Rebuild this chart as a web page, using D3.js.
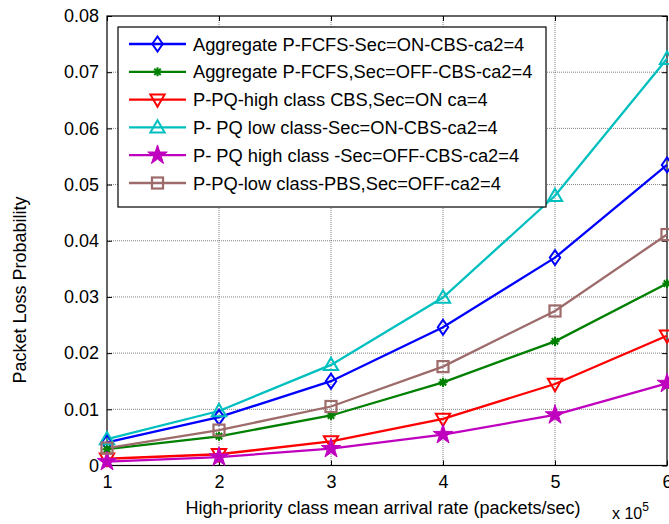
<!DOCTYPE html>
<html><head><meta charset="utf-8">
<script src="https://cdn.jsdelivr.net/npm/d3@7"></script>
<style>body{margin:0;background:#fff}svg{display:block}text{font-family:"Liberation Sans",Arial,sans-serif}</style>
</head><body><svg id="c" width="669" height="524"></svg>
<script>
const xVals = [1, 2, 3, 4, 5, 6];
const xTicks = [1, 2, 3, 4, 5, 6];
const yTicks = [0, 0.01, 0.02, 0.03, 0.04, 0.05, 0.06, 0.07, 0.08];
const seriesNames = [
  "Aggregate P-FCFS-Sec=ON-CBS-ca2=4",
  "Aggregate P-FCFS,Sec=OFF-CBS-ca2=4",
  "P-PQ-high class CBS,Sec=ON ca=4",
  "P- PQ low class-Sec=ON-CBS-ca2=4",
  "P- PQ high class -Sec=OFF-CBS-ca2=4",
  "P-PQ-low class-PBS,Sec=OFF-ca2=4"
];
const aggOn   = [0.0041, 0.0086, 0.0150, 0.0246, 0.0370, 0.0535];
const aggOff  = [0.0029, 0.0052, 0.0089, 0.0148, 0.0221, 0.0324];
const pqHighOn  = [0.0012, 0.0020, 0.0043, 0.0083, 0.0145, 0.0231];
const pqLowOn   = [0.0047, 0.0097, 0.0179, 0.0299, 0.0480, 0.0724];
const pqHighOff = [0.0007, 0.0015, 0.0030, 0.0055, 0.0090, 0.0146];
const pqLowOff  = [0.0031, 0.0063, 0.0105, 0.0176, 0.0275, 0.0411];
const seriesData = [aggOn, aggOff, pqHighOn, pqLowOn, pqHighOff, pqLowOff];
const colors = ["#0000ff", "#008000", "#ff0000", "#00bfbf", "#bf00bf", "#9e6b6b"];
const markers = ["diamond", "asterisk", "triDown", "triUp", "star", "square"];

const FONT = '"Liberation Sans",Arial,sans-serif';
const svg = d3.select("#c");
const L = 107, R = 667, T = 16, B = 465.5;
const x = d3.scaleLinear().domain([1, 6]).range([L, R]);
const y = d3.scaleLinear().domain([0, 0.08]).range([B, T]);

// grid
const g = svg.append("g");
g.selectAll(".gx").data(xTicks.slice(1, -1)).enter().append("line")
  .attr("x1", d => x(d)).attr("x2", d => x(d)).attr("y1", T).attr("y2", B)
  .attr("stroke", "#808080").attr("stroke-width", 1).attr("stroke-dasharray", "1,1");
g.selectAll(".gy").data(yTicks.slice(1, -1)).enter().append("line")
  .attr("y1", d => y(d)).attr("y2", d => y(d)).attr("x1", L).attr("x2", R)
  .attr("stroke", "#808080").attr("stroke-width", 1).attr("stroke-dasharray", "1,1");

// axes
const ax = d3.axisBottom(x).tickValues(xTicks).tickSize(-5).tickPadding(10).tickFormat(d3.format("d"));
const ay = d3.axisLeft(y).tickValues(yTicks).tickSize(-5).tickPadding(8).tickFormat(d => d === 0 ? "0" : d3.format(".2f")(d));
const axT = d3.axisTop(x).tickValues(xTicks).tickSize(-5).tickFormat("");
const ayR = d3.axisRight(y).tickValues(yTicks).tickSize(-5).tickFormat("");
function style(sel){ sel.select(".domain").remove(); sel.selectAll("line").attr("stroke","#000");
  sel.selectAll("text").attr("font-size", 18).attr("fill", "#000").attr("font-family", FONT); }
svg.append("g").attr("transform", `translate(0,${B})`).call(ax).call(style);
svg.append("g").attr("transform", `translate(${L},0)`).call(ay).call(style);
svg.append("g").attr("transform", `translate(0,${T})`).call(axT).call(style);
svg.append("g").attr("transform", `translate(${R},0)`).call(ayR).call(style);
svg.append("rect").attr("x", L).attr("y", T).attr("width", R - L).attr("height", B - T)
  .attr("fill", "none").attr("stroke", "#000").attr("stroke-width", 1.2);

// markers
function drawMarker(sel, type, color, s) {
  const h = s / 2;
  if (type === "diamond") {
    sel.append("path").attr("d", `M0,${-h*1.15}L${h*0.8},0L0,${h*1.15}L${-h*0.8},0Z`).attr("fill", "none").attr("stroke", color).attr("stroke-width", 2);
  } else if (type === "triUp") {
    sel.append("path").attr("d", `M0,${-h*1.1}L${h*1.1},${h*0.8}L${-h*1.1},${h*0.8}Z`).attr("fill", "none").attr("stroke", color).attr("stroke-width", 2);
  } else if (type === "triDown") {
    sel.append("path").attr("d", `M0,${h*1.1}L${h*1.1},${-h*0.8}L${-h*1.1},${-h*0.8}Z`).attr("fill", "none").attr("stroke", color).attr("stroke-width", 2);
  } else if (type === "square") {
    sel.append("rect").attr("x", -h*0.85).attr("y", -h*0.85).attr("width", h*1.7).attr("height", h*1.7).attr("fill", "none").attr("stroke", color).attr("stroke-width", 2.2);
  } else if (type === "star") {
    sel.append("path").attr("d", d3.symbol().type(d3.symbolStar).size(s * s * 0.7)()).attr("fill", color).attr("stroke", color).attr("stroke-width", 1);
  } else if (type === "asterisk") {
    const r = h * 0.7;
    let p = "";
    for (let i = 0; i < 4; i++) { const a = i * Math.PI / 4; p += `M${-r*Math.cos(a)},${-r*Math.sin(a)}L${r*Math.cos(a)},${r*Math.sin(a)}`; }
    sel.append("path").attr("d", p).attr("stroke", color).attr("stroke-width", 2);
    sel.append("circle").attr("r", 2.4).attr("fill", color);
  }
}

const line = d3.line().x((d, i) => x(xVals[i])).y(d => y(d));
const plot = svg.append("g");
seriesData.forEach((vals, k) => {
  plot.append("path").attr("d", line(vals)).attr("fill", "none").attr("stroke", colors[k]).attr("stroke-width", 2.3);
});
seriesData.forEach((vals, k) => {
  vals.forEach((v, i) => {
    const m = plot.append("g").attr("transform", `translate(${x(xVals[i])},${y(v)})`);
    drawMarker(m, markers[k], colors[k], 13);
  });
});

// legend
const lg = svg.append("g");
lg.append("rect").attr("x", 118).attr("y", 27).attr("width", 428).attr("height", 180)
  .attr("fill", "#fff").attr("stroke", "#000").attr("stroke-width", 1.2);
seriesNames.forEach((name, k) => {
  const yy = 44 + k * 27.8;
  lg.append("line").attr("x1", 129).attr("x2", 186).attr("y1", yy).attr("y2", yy).attr("stroke", colors[k]).attr("stroke-width", 2.3);
  drawMarker(lg.append("g").attr("transform", `translate(157.5,${yy})`), markers[k], colors[k], 13);
  lg.append("text").attr("x", 193).attr("y", yy + 6.5).attr("font-size", 18.3).attr("fill", "#000").text(name);
});

// labels
svg.append("text").attr("x", 383).attr("y", 514).attr("text-anchor", "middle").attr("font-size", 18).text("High-priority class mean arrival rate (packets/sec)");
svg.append("text").attr("transform", "translate(26,290) rotate(-90)").attr("text-anchor", "middle").attr("font-size", 18).text("Packet Loss Probability");
const ex = svg.append("text").attr("x", 612).attr("y", 519).attr("font-size", 16);
ex.append("tspan").text("x 10");
ex.append("tspan").attr("dy", -8).attr("font-size", 12).text("5");
</script></body></html>
